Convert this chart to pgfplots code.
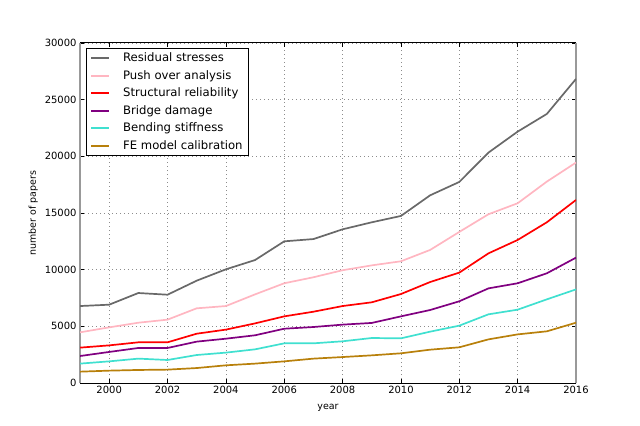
\documentclass[border=0pt]{standalone}
\usepackage{fontspec}
\setmainfont{DejaVu Sans}
\usepackage{pgfplots}
\pgfplotsset{compat=1.18}
\definecolor{cgrey}{RGB}{105,105,105}
\definecolor{cpink}{RGB}{255,182,193}
\definecolor{cred}{RGB}{255,0,0}
\definecolor{cpurple}{RGB}{128,0,128}
\definecolor{cturq}{RGB}{64,224,208}
\definecolor{cgold}{RGB}{184,128,11}
\begin{document}
\begin{tikzpicture}
\begin{axis}[
  scale only axis,
  width=496bp, height=340bp,
  xmin=1999, xmax=2016, ymin=0, ymax=30000,
  xtick={2000,2002,...,2016},
  ytick={0,5000,...,30000},
  scaled y ticks=false,
  /pgf/number format/.cd, 1000 sep={}, assume math mode=true, /pgfplots/.cd,
  tick label style={font=\fontsize{10}{12}\selectfont},
  label style={font=\fontsize{9.5}{11}\selectfont},
  xlabel={year}, ylabel={number of papers},
  xlabel style={yshift=-3bp},
  ylabel style={yshift=0bp},
  grid=major,
  major grid style={dash pattern=on 1.2bp off 2.8bp, line width=0.7bp, black!45},
  tick align=inside,
  major tick length=4bp,
  tick style={black, line width=0.5bp},
  separate axis lines,
  x axis line style={black, line width=1bp},
  y axis line style={black!40, line width=1.5bp},
  legend cell align=left,
  legend style={at={(0.012,0.985)}, anchor=north west,
    font=\fontsize{11.7}{13}\selectfont, inner xsep=4bp, inner ysep=2.5bp, row sep=3.2bp,
    /tikz/every odd column/.append style={column sep=11bp}},
  legend image code/.code={\draw[#1, line width=2bp] (0bp,0bp) -- (18bp,0bp);},
  every axis plot/.append style={line width=1.7bp},
]
\addplot[color=cgrey] coordinates {(1999,6790) (2000,6910) (2001,7940) (2002,7790) (2003,9030) (2004,10030) (2005,10850) (2006,12500) (2007,12700) (2008,13560) (2009,14180) (2010,14740) (2011,16560) (2012,17740) (2013,20330) (2014,22180) (2015,23740) (2016,26830)};
\addlegendentry{Residual stresses}
\addplot[color=cpink] coordinates {(1999,4470) (2000,4910) (2001,5320) (2002,5590) (2003,6590) (2004,6790) (2005,7820) (2006,8800) (2007,9330) (2008,9950) (2009,10380) (2010,10740) (2011,11740) (2012,13330) (2013,14890) (2014,15860) (2015,17770) (2016,19450)};
\addlegendentry{Push over analysis}
\addplot[color=cred] coordinates {(1999,3120) (2000,3320) (2001,3590) (2002,3590) (2003,4350) (2004,4710) (2005,5260) (2006,5880) (2007,6290) (2008,6790) (2009,7120) (2010,7850) (2011,8910) (2012,9740) (2013,11440) (2014,12620) (2015,14180) (2016,16150)};
\addlegendentry{Structural reliability}
\addplot[color=cpurple] coordinates {(1999,2380) (2000,2740) (2001,3090) (2002,3090) (2003,3650) (2004,3910) (2005,4210) (2006,4790) (2007,4940) (2008,5150) (2009,5300) (2010,5880) (2011,6440) (2012,7210) (2013,8350) (2014,8800) (2015,9680) (2016,11060)};
\addlegendentry{Bridge damage}
\addplot[color=cturq] coordinates {(1999,1710) (2000,1910) (2001,2150) (2002,2030) (2003,2470) (2004,2680) (2005,2970) (2006,3500) (2007,3500) (2008,3680) (2009,3970) (2010,3940) (2011,4530) (2012,5060) (2013,6060) (2014,6470) (2015,7380) (2016,8260)};
\addlegendentry{Bending stiffness}
\addplot[color=cgold] coordinates {(1999,1000) (2000,1090) (2001,1150) (2002,1180) (2003,1320) (2004,1560) (2005,1710) (2006,1910) (2007,2150) (2008,2290) (2009,2440) (2010,2620) (2011,2940) (2012,3150) (2013,3850) (2014,4290) (2015,4560) (2016,5320)};
\addlegendentry{FE model calibration}
\end{axis}
\path ([shift={(-80bp,-43bp)}]current axis.south west) rectangle ([shift={(560bp,383bp)}]current axis.south west);
\end{tikzpicture}
\end{document}
